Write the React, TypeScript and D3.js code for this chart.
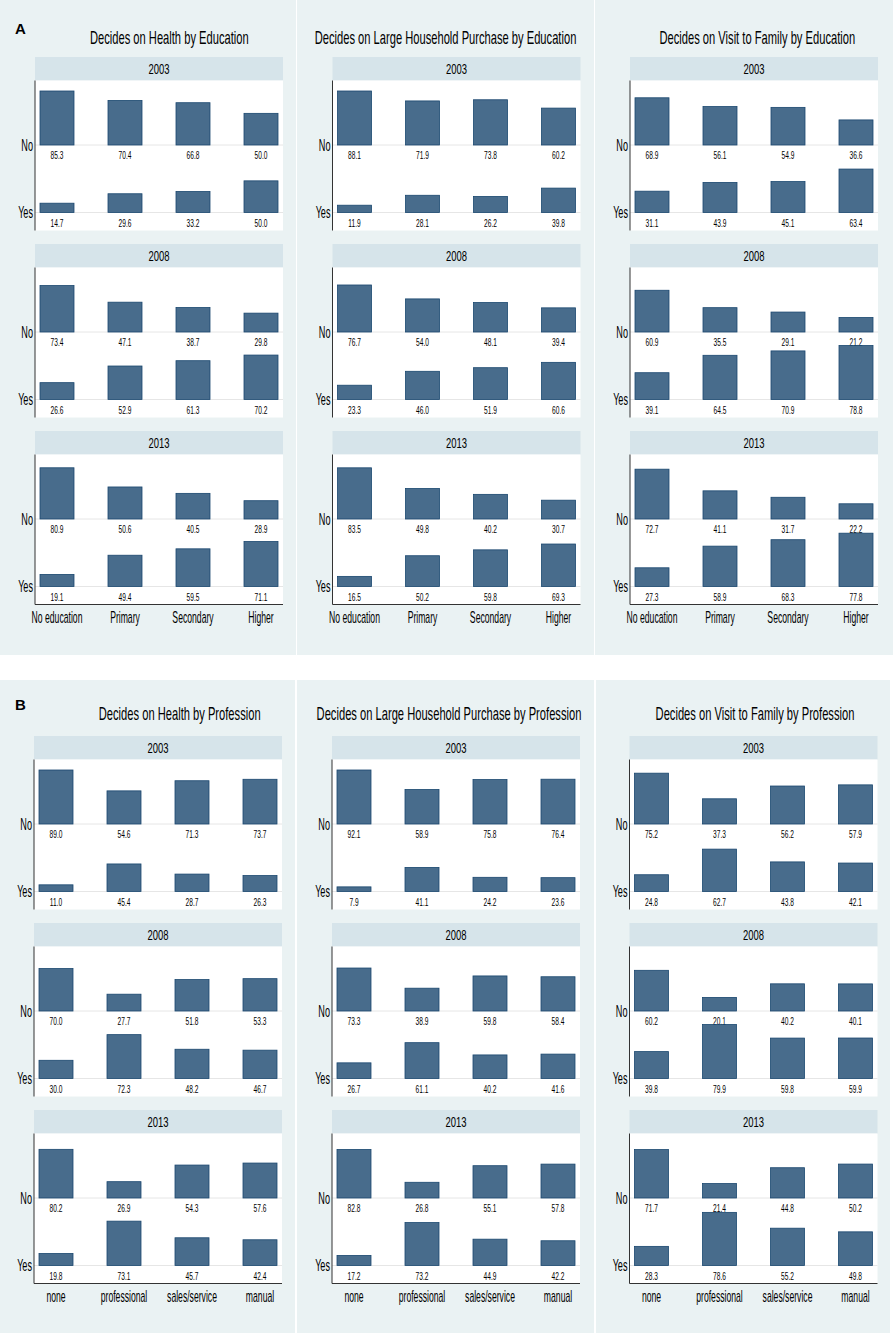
import * as d3 from 'd3';
import React from 'react';

// categories
const years = ['2003', '2008', '2013'];
const responses = ['No', 'Yes'];
const educationLevels = ['No education', 'Primary', 'Secondary', 'Higher'];
const professions = ['none', 'professional', 'sales/service', 'manual'];

// A: by education (rows = years, cols = education levels)
const healthEduNo = [[85.3, 70.4, 66.8, 50.0], [73.4, 47.1, 38.7, 29.8], [80.9, 50.6, 40.5, 28.9]];
const healthEduYes = [[14.7, 29.6, 33.2, 50.0], [26.6, 52.9, 61.3, 70.2], [19.1, 49.4, 59.5, 71.1]];
const purchaseEduNo = [[88.1, 71.9, 73.8, 60.2], [76.7, 54.0, 48.1, 39.4], [83.5, 49.8, 40.2, 30.7]];
const purchaseEduYes = [[11.9, 28.1, 26.2, 39.8], [23.3, 46.0, 51.9, 60.6], [16.5, 50.2, 59.8, 69.3]];
const visitEduNo = [[68.9, 56.1, 54.9, 36.6], [60.9, 35.5, 29.1, 21.2], [72.7, 41.1, 31.7, 22.2]];
const visitEduYes = [[31.1, 43.9, 45.1, 63.4], [39.1, 64.5, 70.9, 78.8], [27.3, 58.9, 68.3, 77.8]];

// B: by profession
const healthProfNo = [[89.0, 54.6, 71.3, 73.7], [70.0, 27.7, 51.8, 53.3], [80.2, 26.9, 54.3, 57.6]];
const healthProfYes = [[11.0, 45.4, 28.7, 26.3], [30.0, 72.3, 48.2, 46.7], [19.8, 73.1, 45.7, 42.4]];
const purchaseProfNo = [[92.1, 58.9, 75.8, 76.4], [73.3, 38.9, 59.8, 58.4], [82.8, 26.8, 55.1, 57.8]];
const purchaseProfYes = [[7.9, 41.1, 24.2, 23.6], [26.7, 61.1, 40.2, 41.6], [17.2, 73.2, 44.9, 42.2]];
const visitProfNo = [[75.2, 37.3, 56.2, 57.9], [60.2, 20.1, 40.2, 40.1], [71.7, 21.4, 44.8, 50.2]];
const visitProfYes = [[24.8, 62.7, 43.8, 42.1], [39.8, 79.9, 59.8, 59.9], [28.3, 78.6, 55.2, 49.8]];

const titlesA = [
  'Decides on Health by Education',
  'Decides on Large Household Purchase by Education',
  'Decides on Visit to Family by Education',
];
const titlesB = [
  'Decides on Health by Profession',
  'Decides on Large Household Purchase by Profession',
  'Decides on Visit to Family by Profession',
];

const W = 896;
const H = 1339;
const FONT = '"Liberation Sans", Arial, Helvetica, sans-serif';
const BG = '#eaf2f3';
const STRIP = '#d6e4ea';
const BAR_FILL = '#486c8c';
const BAR_STROKE = '#1a476f';

const STRIP_H = 23.5;
const PLOT_H = 150;
const YEAR_STEP = 187;
const PLOT_W = 248;
const MAX_BAR = 54;

interface PanelSpec {
  title: string;
  categories: string[];
  no: number[][];
  yes: number[][];
  plotX: number;
  titleX: number;
}

interface SectionSpec {
  label: string;
  top: number;
  bottom: number;
  panelRects: [number, number][];
  titleY: number;
  stripTop: number;
  panels: PanelSpec[];
}

const sections: SectionSpec[] = [
  {
    label: 'A',
    top: 0,
    bottom: 655,
    panelRects: [[0, 296], [297, 594], [595, 893]],
    titleY: 43.7,
    stripTop: 57,
    panels: [
      { title: titlesA[0], categories: educationLevels, no: healthEduNo, yes: healthEduYes, plotX: 35, titleX: 169.3 },
      { title: titlesA[1], categories: educationLevels, no: purchaseEduNo, yes: purchaseEduYes, plotX: 332.5, titleX: 445.5 },
      { title: titlesA[2], categories: educationLevels, no: visitEduNo, yes: visitEduYes, plotX: 630, titleX: 757.3 },
    ],
  },
  {
    label: 'B',
    top: 680,
    bottom: 1333,
    panelRects: [[0, 295], [297, 594], [596, 890]],
    titleY: 720,
    stripTop: 736,
    panels: [
      { title: titlesB[0], categories: professions, no: healthProfNo, yes: healthProfYes, plotX: 34, titleX: 179.7 },
      { title: titlesB[1], categories: professions, no: purchaseProfNo, yes: purchaseProfYes, plotX: 332, titleX: 449 },
      { title: titlesB[2], categories: professions, no: visitProfNo, yes: visitProfYes, plotX: 629.5, titleX: 755 },
    ],
  },
];

function Txt({
  x, y, size, sx, anchor = 'middle', weight = 'normal', children,
}: {
  x: number; y: number; size: number; sx: number; anchor?: string; weight?: string; children: React.ReactNode;
}) {
  return (
    <text
      transform={`translate(${x},${y}) scale(${sx},1)`}
      textAnchor={anchor}
      fontSize={size}
      fontWeight={weight}
      fontFamily={FONT}
      fill="#000"
    >
      {children}
    </text>
  );
}

function Panel({ p, stripTop }: { p: PanelSpec; stripTop: number }) {
  const x = d3
    .scaleBand<string>()
    .domain(p.categories)
    .range([p.plotX, p.plotX + PLOT_W])
    .paddingInner(0.5)
    .paddingOuter(0.0735);

  const allValues = [...p.no.flat(), ...p.yes.flat()];
  const h = d3.scaleLinear().domain([0, d3.max(allValues) as number]).range([0, MAX_BAR]);
  const row = d3.scaleOrdinal<string, number>().domain(responses).range([64.5, 132]);

  return (
    <g>
      {years.map((yr, yi) => {
        const sTop = stripTop + yi * YEAR_STEP;
        const pTop = sTop + STRIP_H;
        const pBottom = pTop + PLOT_H;
        const rows = [p.no[yi], p.yes[yi]];
        return (
          <g key={yr}>
            <rect x={p.plotX} y={sTop} width={PLOT_W} height={STRIP_H} fill={STRIP} />
            <Txt x={p.plotX + PLOT_W / 2} y={sTop + 16.5} size={15.5} sx={0.61}>{yr}</Txt>
            <rect x={p.plotX} y={pTop} width={PLOT_W} height={PLOT_H} fill="#fff" />
            {responses.map((r, ri) => {
              const base = pTop + row(r);
              return (
                <g key={r}>
                  <line x1={p.plotX} x2={p.plotX + PLOT_W} y1={base} y2={base} stroke="#e6e6e6" strokeWidth={1} />
                  {p.categories.map((c, ci) => {
                    const v = rows[ri][ci];
                    const bx = x(c) as number;
                    return (
                      <g key={c}>
                        <rect
                          x={bx}
                          y={base - h(v)}
                          width={x.bandwidth()}
                          height={h(v)}
                          fill={BAR_FILL}
                          stroke={BAR_STROKE}
                          strokeWidth={0.8}
                        />
                        <Txt x={bx + x.bandwidth() / 2} y={base + 14} size={11} sx={0.6}>{v.toFixed(1)}</Txt>
                      </g>
                    );
                  })}
                  <Txt x={p.plotX - 2} y={base + 5.7} size={16} sx={0.57} anchor="end">{r}</Txt>
                </g>
              );
            })}
            <line x1={p.plotX} x2={p.plotX} y1={pTop} y2={pBottom} stroke="#333" strokeWidth={1} />
            {yi === years.length - 1 && (
              <g>
                <line x1={p.plotX} x2={p.plotX + PLOT_W} y1={pBottom} y2={pBottom} stroke="#333" strokeWidth={1} />
                {p.categories.map((c) => (
                  <Txt key={c} x={(x(c) as number) + x.bandwidth() / 2} y={pBottom + 18} size={16} sx={0.54}>{c}</Txt>
                ))}
              </g>
            )}
          </g>
        );
      })}
    </g>
  );
}

export default function App() {
  return (
    <div style={{ position: 'absolute', left: 0, top: 0 }}>
      <svg width={W} height={H} viewBox={`0 0 ${W} ${H}`} style={{ display: 'block', background: '#fff' }}>
        {sections.map((s) => (
          <g key={s.label}>
            {s.panelRects.map(([x0, x1], i) => (
              <rect key={i} x={x0} y={s.top} width={x1 - x0} height={s.bottom - s.top} fill={BG} />
            ))}
            <Txt x={15} y={s.titleY - 10} size={15} sx={1} anchor="start" weight="bold">{s.label}</Txt>
            {s.panels.map((p, i) => (
              <g key={i}>
                <Txt x={p.titleX} y={s.titleY} size={18} sx={0.62}>{p.title}</Txt>
                <Panel p={p} stripTop={s.stripTop} />
              </g>
            ))}
          </g>
        ))}
      </svg>
    </div>
  );
}
